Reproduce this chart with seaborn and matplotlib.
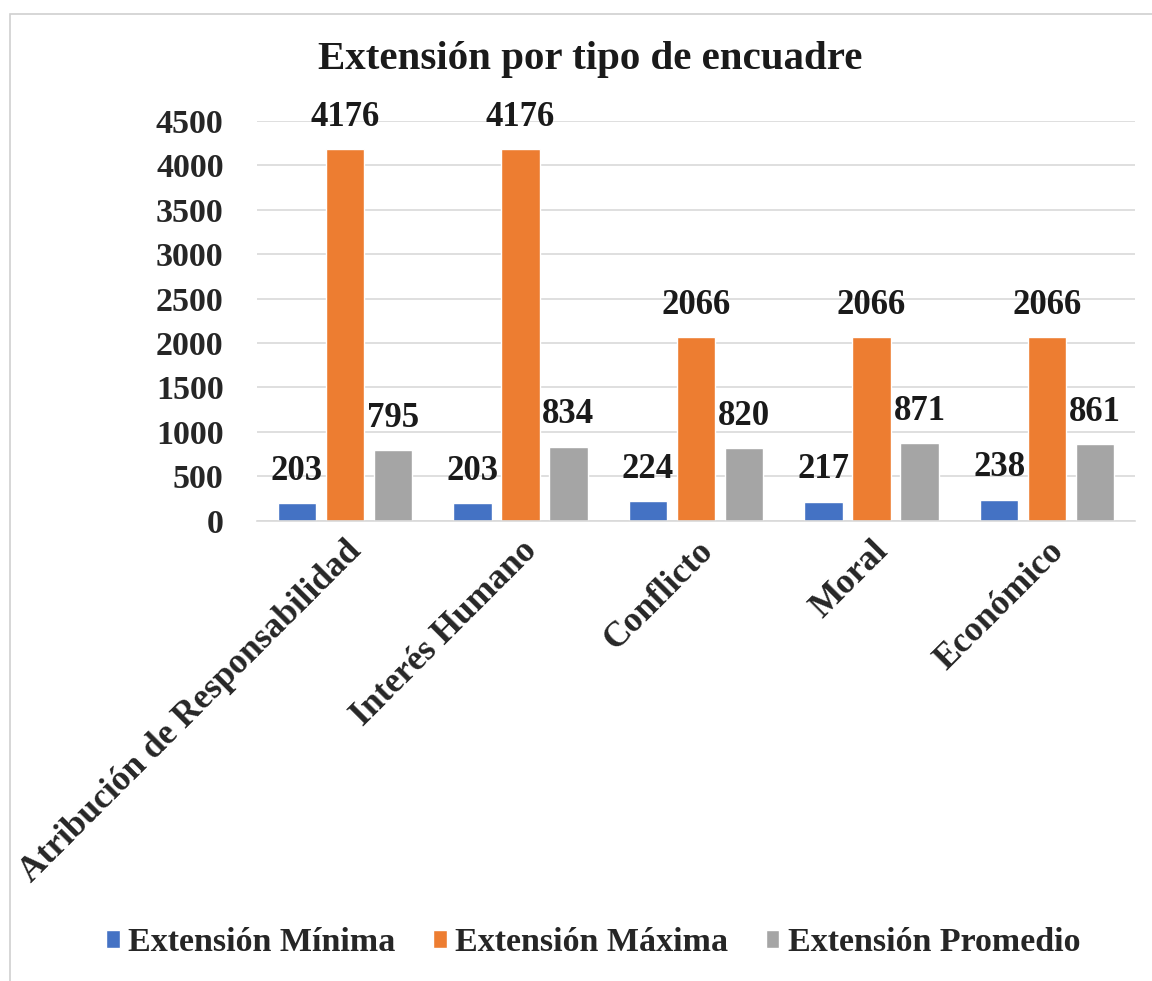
import matplotlib
matplotlib.use("Agg")
import matplotlib.pyplot as plt
import seaborn as sns
import pandas as pd
from matplotlib.patches import Rectangle

categories = ["Atribución de Responsabilidad", "Interés Humano", "Conflicto", "Moral", "Económico"]
series_names = ["Extensión Mínima", "Extensión Máxima", "Extensión Promedio"]
minima = [203, 203, 224, 217, 238]
maxima = [4176, 4176, 2066, 2066, 2066]
promedio = [795, 834, 820, 871, 861]
colors = ["#4472C4", "#ED7D31", "#A5A5A5"]
yticks = [0, 500, 1000, 1500, 2000, 2500, 3000, 3500, 4000, 4500]
title = "Extensión por tipo de encuadre"

rows = []
for name, vals in zip(series_names, [minima, maxima, promedio]):
    for c, v in zip(categories, vals):
        rows.append({"cat": c, "serie": name, "valor": v})
df = pd.DataFrame(rows)

sns.set_theme(style="white")
plt.rcParams["font.family"] = ["Liberation Serif", "DejaVu Serif"]
plt.rcParams["font.weight"] = "bold"

fig = plt.figure(figsize=(11.52, 9.81), dpi=100)
ax = fig.add_axes([0.2231, 0.469, 0.7621, 0.408])

sns.barplot(data=df, x="cat", y="valor", hue="serie", order=categories,
            hue_order=series_names, palette=colors, width=0.82, gap=0.2,
            saturation=1, ax=ax, legend=True)

ax.set_ylim(0, 4500)
ax.set_yticks(yticks)
ax.set_yticklabels([str(t) for t in yticks], fontsize=24.5, fontweight="bold")
ax.set_xlim(-0.5, len(categories) - 0.5)
ax.set_xticks(range(len(categories)))
ax.set_xticklabels(categories, rotation=45, ha="right", rotation_mode="anchor",
                   fontsize=25.5, fontweight="bold")
ax.tick_params(axis="y", length=0, pad=24)
ax.tick_params(axis="x", length=0, pad=10)
ax.set_xlabel("")
ax.set_ylabel("")
ax.yaxis.grid(True, color="#D9D9D9", linewidth=1.2)
ax.set_axisbelow(True)
for s in ["top", "right", "left"]:
    ax.spines[s].set_visible(False)
ax.spines["bottom"].set_color("#D9D9D9")
ax.spines["bottom"].set_linewidth(1.2)

for cont in ax.containers:
    ax.bar_label(cont, labels=[f"{int(v)}" for v in cont.datavalues], padding=11,
                 fontsize=25, fontweight="bold", color="#1a1a1a")

fig.text(0.512, 0.939, title, ha="center", va="center", fontsize=29.5, fontweight="bold",
         color="#1a1a1a")

leg = ax.get_legend()
handles = leg.legend_handles
leg.remove()
fig.legend(handles, series_names, loc="center", bbox_to_anchor=(0.515, 0.039), ncol=3,
           frameon=False, prop={"weight": "bold", "size": 24.5},
           handlelength=0.4, handleheight=0.4, handletextpad=0.25, columnspacing=1.1)

fig.patches.append(Rectangle((0.009, -0.02), 1.2, 1.0057, transform=fig.transFigure,
                             fill=False, edgecolor="#D0D0D0", linewidth=1.2))

fig.savefig("out.png", dpi=100, facecolor="white")
